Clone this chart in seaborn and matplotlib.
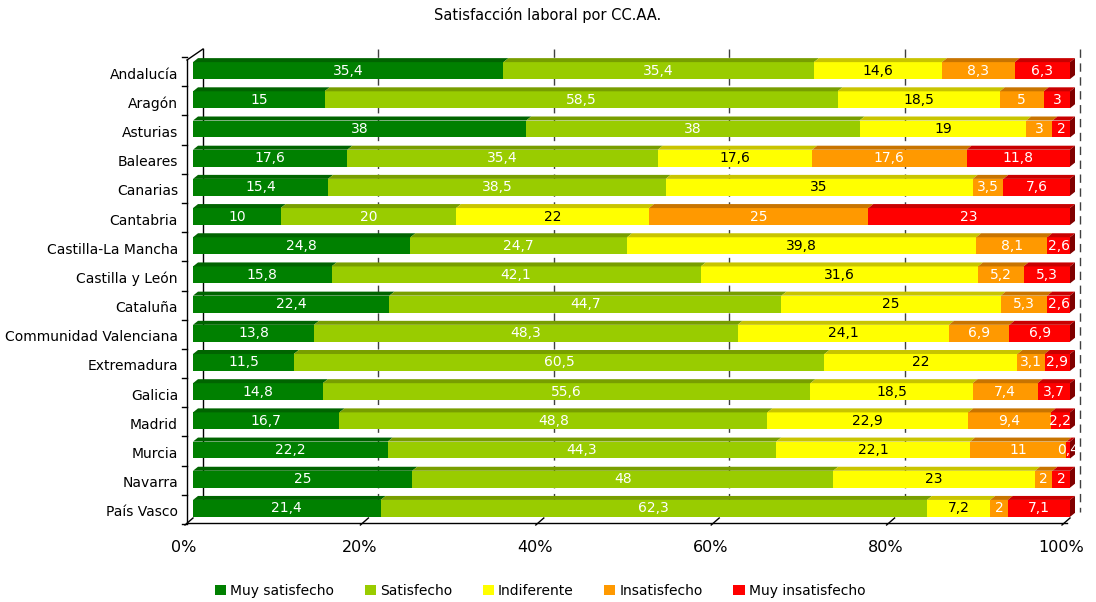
import matplotlib
matplotlib.use("Agg")
import matplotlib.pyplot as plt
import matplotlib.transforms as mtransforms
from matplotlib.patches import Polygon, Patch
import seaborn as sns
import pandas as pd
import numpy as np

regions = ["Andalucía", "Aragón", "Asturias", "Baleares", "Canarias", "Cantabria",
           "Castilla-La Mancha", "Castilla y León", "Cataluña", "Communidad Valenciana",
           "Extremadura", "Galicia", "Madrid", "Murcia", "Navarra", "País Vasco"]
series = ["Muy satisfecho", "Satisfecho", "Indiferente", "Insatisfecho", "Muy insatisfecho"]
muy_satisfecho = [35.4, 15, 38, 17.6, 15.4, 10, 24.8, 15.8, 22.4, 13.8, 11.5, 14.8, 16.7, 22.2, 25, 21.4]
satisfecho = [35.4, 58.5, 38, 35.4, 38.5, 20, 24.7, 42.1, 44.7, 48.3, 60.5, 55.6, 48.8, 44.3, 48, 62.3]
indiferente = [14.6, 18.5, 19, 17.6, 35, 22, 39.8, 31.6, 25, 24.1, 22, 18.5, 22.9, 22.1, 23, 7.2]
insatisfecho = [8.3, 5, 3, 17.6, 3.5, 25, 8.1, 5.2, 5.3, 6.9, 3.1, 7.4, 9.4, 11, 2, 2]
muy_insatisfecho = [6.3, 3, 2, 11.8, 7.6, 23, 2.6, 5.3, 2.6, 6.9, 2.9, 3.7, 2.2, 0.4, 2, 7.1]
tick_labels = ["0%", "20%", "40%", "60%", "80%", "100%"]

colors = ["#008000", "#99CC00", "#FFFF00", "#FF9900", "#FF0000"]
top_colors = ["#006400", "#789E00", "#C8C400", "#C87400", "#C80000"]
text_colors = ["white", "white", "black", "white", "white"]

vals = np.array([muy_satisfecho, satisfecho, indiferente, insatisfecho, muy_insatisfecho])
pct = vals / vals.sum(axis=0) * 100
cum = np.cumsum(pct, axis=0)

plt.rcParams['font.family'] = ['DejaVu Sans']
W, H = 1096, 602
fig = plt.figure(figsize=(W / 100, H / 100), dpi=100)
ax = fig.add_axes([193 / W, 1 - 523 / H, (1070 - 193) / W, (523 - 56) / H])
ax.set_facecolor("none")

bar_w = 0.58
for k in range(len(series) - 1, -1, -1):
    df = pd.DataFrame({"region": regions, "value": cum[k]})
    sns.barplot(data=df, x="value", y="region", orient="h", color=colors[k],
                saturation=1, width=bar_w, ax=ax, zorder=3, linewidth=0)

ax.set_xlim(0, 100)
ax.set_ylim(len(regions) - 0.5, -0.5)
for s in ax.spines.values():
    s.set_visible(False)
ax.set_xlabel("")
ax.set_ylabel("")
ax.set_xticks([])
ax.set_yticks([])

# pixel transform (y down)
pt = mtransforms.Affine2D().scale(1, -1).translate(0, H)
def to_px(x, y):
    d = ax.transData.transform((x, y))
    return d[0], H - d[1]

bdx, bdy = 5, 4  # bar depth
for i in range(len(regions)):
    y_top = i - bar_w / 2
    y_bot = i + bar_w / 2
    prev = 0
    for k in range(len(series)):
        x0, yt = to_px(prev, y_top)
        x1, _ = to_px(cum[k][i], y_top)
        poly = Polygon([(x0, yt), (x1, yt), (x1 + bdx, yt - bdy), (x0 + bdx, yt - bdy)],
                       closed=True, transform=pt, facecolor=top_colors[k], edgecolor="none",
                       clip_on=False, zorder=4)
        ax.add_patch(poly)
        prev = cum[k][i]
    xr, yt = to_px(100, y_top)
    _, yb = to_px(100, y_bot)
    ax.add_patch(Polygon([(xr, yt), (xr + bdx, yt - bdy), (xr + bdx, yb - bdy), (xr, yb)],
                         closed=True, transform=pt, facecolor="#800000", edgecolor="none",
                         clip_on=False, zorder=4))

# data labels
for i in range(len(regions)):
    prev = 0
    for k in range(len(series)):
        c = (prev + cum[k][i]) / 2
        s = f"{vals[k][i]:g}".replace(".", ",")
        ax.text(c, i, s, ha="center", va="center", color=text_colors[k], fontsize=10, zorder=6)
        prev = cum[k][i]

# walls and grid
front_dx = -6
back_dx, back_dy = 10, -8
top_y = 60
bot_y = 523
for p in [20, 40, 60, 80, 100]:
    x, _ = to_px(p, 0)
    ax.plot([x + back_dx, x + back_dx], [top_y + back_dy - 3, bot_y + back_dy - 3], transform=pt,
            color="#404040", lw=1, ls=(0, (6, 4)), clip_on=False, zorder=1)
x0, _ = to_px(0, 0)
ax.plot([x0 + back_dx, x0 + back_dx], [top_y + back_dy - 3, bot_y + back_dy - 3], transform=pt,
        color="black", lw=1, clip_on=False, zorder=1)
fx = x0 + front_dx
ax.plot([fx, fx], [top_y, bot_y], transform=pt, color="black", lw=1, clip_on=False, zorder=2)
ax.plot([fx, x0 + back_dx], [top_y, top_y + back_dy - 3], transform=pt, color="black", lw=1,
        clip_on=False, zorder=2)
for b in np.arange(-0.5, len(regions) + 0.5, 1.0):
    _, yy = to_px(0, b)
    ax.plot([fx - 5, fx], [yy + 1, yy + 1], transform=pt, color="black", lw=1, clip_on=False, zorder=2)
xend, _ = to_px(100, 0)
ax.plot([fx, xend - 3], [bot_y, bot_y], transform=pt, color="black", lw=1, clip_on=False, zorder=2)
for p in [0, 20, 40, 60, 80, 100]:
    x, _ = to_px(p, 0)
    xb = x + front_dx
    ax.plot([xb - 2, xb + 6], [bot_y + 2, bot_y - 5], transform=pt, color="black", lw=1,
            clip_on=False, zorder=2)
for p, lab in zip([0, 20, 40, 60, 80, 100], tick_labels):
    x, _ = to_px(p, 0)
    ax.text(x - 9, 547, lab, transform=pt, ha="center", va="center", fontsize=11.5, clip_on=False)
for i, r in enumerate(regions):
    _, yy = to_px(0, i)
    ax.text(178, yy + 4, r, transform=pt, ha="right", va="center", fontsize=10, clip_on=False)

fig.text(0.5, 1 - 15 / H, "Satisfacción laboral por CC.AA.", ha="center", va="center", fontsize=10.5)

handles = [Patch(facecolor=c, edgecolor="none") for c in colors]
fig.legend(handles, series, loc="center", bbox_to_anchor=(540 / W, 1 - 591 / H), ncol=5,
           frameon=False, fontsize=10, handlelength=0.8, handleheight=0.8, handletextpad=0.3,
           columnspacing=2.2)

fig.savefig("out.png", dpi=100)
